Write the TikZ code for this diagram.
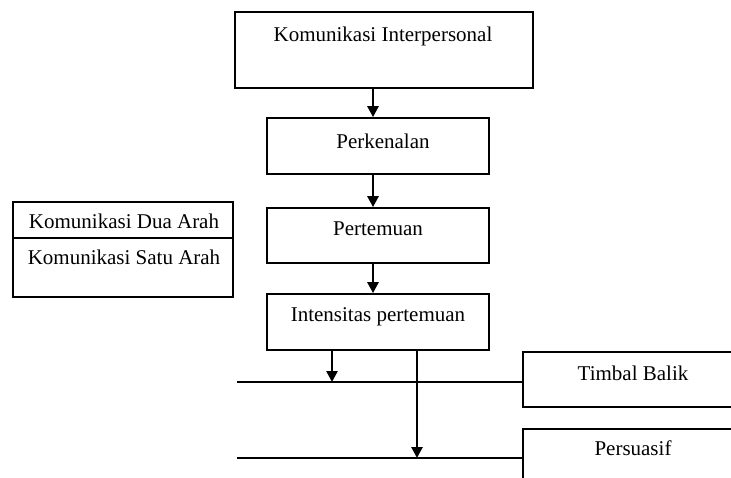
\documentclass[tikz,border=0pt]{standalone}
\usepackage{fontspec}
\setmainfont{Liberation Serif}
\usetikzlibrary{arrows.meta}
\begin{document}
\begin{tikzpicture}[x=1pt,y=-1pt,
  box/.style={draw,line width=1.7pt,rectangle,inner sep=0pt},
  lbl/.style={inner sep=0pt,font=\fontsize{21}{24}\selectfont},
  arr/.style={line width=2.6pt,-{Triangle[width=11pt,length=11pt]}},
  hline/.style={line width=1.7pt}]
\clip (0,0) rectangle (731,477);
\fill[white] (0,0) rectangle (731,477);
% main chain
\node[box,minimum width=298,minimum height=76] (top) at (384,50) {};
\node[lbl] (topt) at (383,36) {Komunikasi Interpersonal};
\node[box,minimum width=222,minimum height=56] (perk) at (378,146) {};
\node[lbl] (perkt) at (383,141) {Perkenalan};
\node[box,minimum width=222,minimum height=55] (pert) at (378,235.5) {};
\node[lbl] (pertt) at (378,229) {Pertemuan};
\node[box,minimum width=222,minimum height=56] (inten) at (378,322) {};
\node[lbl] (intent) at (378,317) {Intensitas pertemuan};
% left boxes
\node[box,minimum width=220,minimum height=36] (dua) at (123,220) {};
\node[lbl] (duat) at (124,221) {Komunikasi Dua Arah};
\node[box,minimum width=220,minimum height=59] (satu) at (123,267.5) {};
\node[lbl] (satut) at (124,257) {Komunikasi Satu Arah};
% right boxes
\node[box,minimum width=230,minimum height=55] (timbal) at (638,379.5) {};
\node[lbl] (timbalt) at (633,373) {Timbal Balik};
\node[box,minimum width=230,minimum height=80] (pers) at (638,469) {};
\node[lbl] (perst) at (633,448) {Persuasif};
% coordinates
\coordinate (ax) at (373,0);
\coordinate (bx) at (332,0);
\coordinate (cx) at (417,0);
\coordinate (l1) at (237,382);
\coordinate (l2) at (237,458);
% arrows
\draw[arr] (top.south -| ax) -- (perk.north -| ax);
\draw[arr] (perk.south -| ax) -- (pert.north -| ax);
\draw[arr] (pert.south -| ax) -- (inten.north -| ax);
\draw[hline] (l1) -- (l1 -| timbal.west);
\draw[hline] (l2) -- (l2 -| pers.west);
\draw[arr] (inten.south -| bx) -- (l1 -| bx);
\draw[arr] (inten.south -| cx) -- (l2 -| cx);
\end{tikzpicture}
\end{document}
